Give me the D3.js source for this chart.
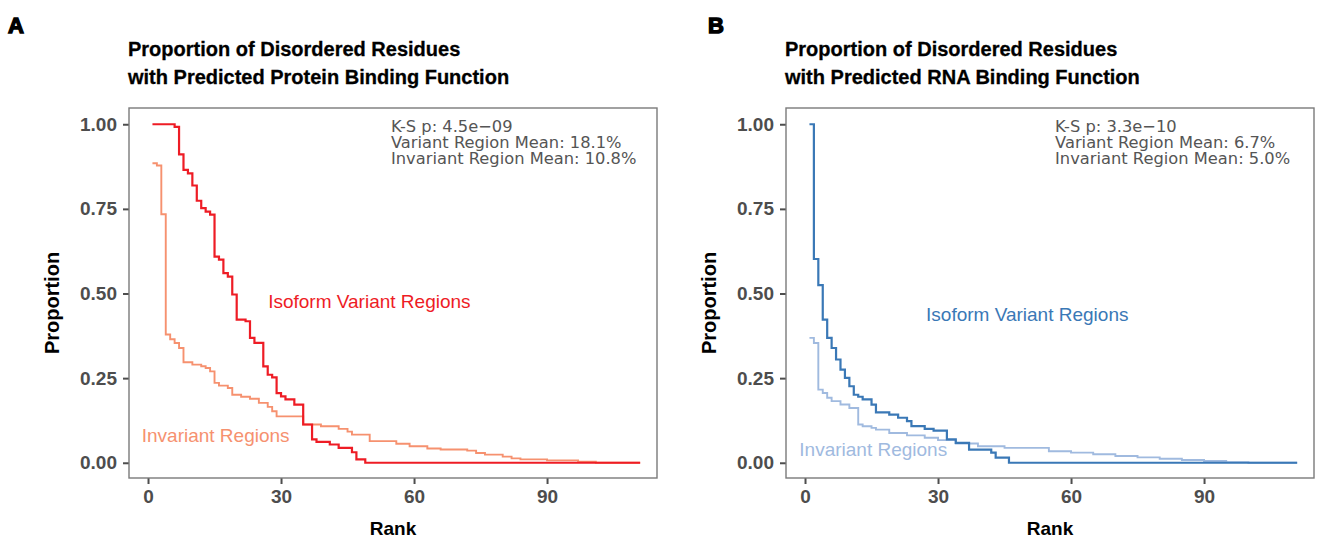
<!DOCTYPE html>
<html>
<head>
<meta charset="utf-8">
<script src="https://cdn.jsdelivr.net/npm/d3@7"></script>
<style>
  body { margin: 0; background: #fff; }
</style>
</head>
<body>
<script>
// ranked proportions, stored as [rank, value] where the step changes
const proteinVariant = [
  [1, 1.0], [6, 0.992], [7, 0.911], [8, 0.865], [9, 0.855], [10, 0.819], [11, 0.774],
  [12, 0.752], [13, 0.742], [14, 0.733], [15, 0.609], [16, 0.6], [17, 0.56], [18, 0.55],
  [19, 0.497], [20, 0.423], [22, 0.418], [23, 0.369], [24, 0.354], [26, 0.285], [27, 0.26],
  [28, 0.252], [29, 0.206], [30, 0.196], [31, 0.187], [33, 0.172], [35, 0.113], [37, 0.069],
  [38, 0.062], [41, 0.054], [43, 0.044], [46, 0.031], [47, 0.01], [49, 0]
];
const proteinInvariant = [
  [1, 0.885], [2, 0.878], [3, 0.734], [4, 0.379], [5, 0.365], [6, 0.354], [7, 0.339],
  [8, 0.297], [10, 0.29], [12, 0.285], [13, 0.28], [14, 0.27], [15, 0.236], [16, 0.228],
  [18, 0.221], [19, 0.201], [21, 0.195], [23, 0.189], [25, 0.177], [27, 0.165], [28, 0.152],
  [29, 0.137], [35, 0.113], [39, 0.108], [43, 0.1], [45, 0.092], [46, 0.083], [50, 0.064],
  [56, 0.056], [59, 0.049], [63, 0.042], [66, 0.039], [72, 0.036], [74, 0.029], [76, 0.024],
  [80, 0.018], [82, 0.013], [84, 0.01], [90, 0.007], [97, 0.003], [101, 0]
];
const rnaVariant = [
  [1, 1.0], [2, 0.602], [3, 0.525], [4, 0.423], [5, 0.369], [6, 0.339], [7, 0.305],
  [8, 0.275], [9, 0.251], [10, 0.226], [11, 0.201], [12, 0.195], [13, 0.187], [15, 0.172],
  [16, 0.149], [19, 0.142], [21, 0.133], [23, 0.123], [24, 0.108], [27, 0.1], [29, 0.095],
  [32, 0.069], [34, 0.059], [37, 0.039], [42, 0.03], [43, 0.015], [46, 0]
];
const rnaInvariant = [
  [1, 0.369], [2, 0.354], [3, 0.216], [4, 0.206], [5, 0.192], [6, 0.182], [8, 0.172],
  [10, 0.162], [12, 0.113], [13, 0.108], [15, 0.103], [16, 0.098], [19, 0.088], [23, 0.081],
  [27, 0.074], [30, 0.067], [34, 0.057], [39, 0.049], [45, 0.044], [55, 0.034], [60, 0.03],
  [65, 0.025], [70, 0.02], [75, 0.016], [80, 0.012], [85, 0.008], [90, 0.005], [95, 0.002],
  [100, 0]
];
const lastRank = 111;

const xTicks = [0, 30, 60, 90];
const yTicks = [0, 0.25, 0.5, 0.75, 1];

const proteinTitle = ["Proportion of Disordered Residues", "with Predicted Protein Binding Function"];
const rnaTitle = ["Proportion of Disordered Residues", "with Predicted RNA Binding Function"];
const proteinStats = ["K-S p: 4.5e\u221209", "Variant Region Mean: 18.1%", "Invariant Region Mean: 10.8%"];
const rnaStats = ["K-S p: 3.3e\u221210", "Variant Region Mean: 6.7%", "Invariant Region Mean: 5.0%"];

const W = 1326, H = 543;
const panelTop = 108, pw = 528, ph = 370;
const sans = "'Liberation Sans', Arial, sans-serif";

const panels = [
  {
    letter: "A", letterX: 8, left: 129, title: proteinTitle, stats: proteinStats, statsX: 54.8,
    variant: proteinVariant, invariant: proteinInvariant,
    vColor: "#ee1c25", iColor: "#f6916f",
    vLabel: [27.1, 0.458], iLabel: [-1.42, 0.06]
  },
  {
    letter: "B", letterX: 708, left: 786, title: rnaTitle, stats: rnaStats, statsX: 56.4,
    variant: rnaVariant, invariant: rnaInvariant,
    vColor: "#3a78b6", iColor: "#a0badf",
    vLabel: [27.3, 0.418], iLabel: [-1.29, 0.02]
  }
];

const svg = d3.select("body")
  .append("svg")
  .attr("width", W)
  .attr("height", H)
  .style("font-family", sans);

const x = d3.scaleLinear().domain([-4.29, 114.8]).range([0, pw]);
const y = d3.scaleLinear().domain([-0.045, 1.048]).range([ph, 0]);

const line = d3.line()
  .x((d) => x(d[0]))
  .y((d) => y(d[1]))
  .curve(d3.curveStepAfter);

// pad the last step out to the final rank
const extend = (s) => s.concat([[lastRank, s[s.length - 1][1]]]);

panels.forEach((p) => {
  svg.append("text")
    .text(p.letter)
    .attr("x", p.letterX)
    .attr("y", 33)
    .attr("font-size", 22)
    .attr("font-weight", "bold")
    .attr("stroke", "#000")
    .attr("stroke-width", 1.4);

  p.title.forEach((t, i) => {
    svg.append("text")
      .text(t)
      .attr("x", p.left - 1)
      .attr("y", 56 + i * 27.5)
      .attr("font-size", 20)
      .attr("font-weight", "bold")
      .attr("fill", "#000")
      .attr("stroke", "#000")
      .attr("stroke-width", 0.3);
  });

  const g = svg.append("g").attr("transform", `translate(${p.left},${panelTop})`);

  // axes
  const yAxis = g.append("g")
    .call(d3.axisLeft(y).tickValues(yTicks).tickFormat(d3.format(".2f")).tickSize(6).tickPadding(6));
  const xAxis = g.append("g")
    .attr("transform", `translate(0,${ph})`)
    .call(d3.axisBottom(x).tickValues(xTicks).tickSize(6).tickPadding(6));

  [yAxis, xAxis].forEach((a) => {
    a.attr("font-family", null).attr("font-size", null);
    a.select(".domain").remove();
    a.selectAll(".tick line").attr("stroke", "#4d4d4d").attr("stroke-width", 2);
    a.selectAll(".tick text")
      .attr("fill", "#4d4d4d")
      .attr("font-size", 19)
      .attr("font-weight", "bold");
  });

  g.append("rect")
    .attr("width", pw)
    .attr("height", ph)
    .attr("fill", "none")
    .attr("stroke", "#7a7a7a")
    .attr("stroke-width", 1.4);

  g.append("path")
    .attr("d", line(extend(p.invariant)))
    .attr("fill", "none")
    .attr("stroke", p.iColor)
    .attr("stroke-width", 1.9);

  g.append("path")
    .attr("d", line(extend(p.variant)))
    .attr("fill", "none")
    .attr("stroke", p.vColor)
    .attr("stroke-width", 2.2);

  g.append("text")
    .text("Isoform Variant Regions")
    .attr("x", x(p.vLabel[0]))
    .attr("y", y(p.vLabel[1]))
    .attr("font-size", 19)
    .attr("fill", p.vColor);

  g.append("text")
    .text("Invariant Regions")
    .attr("x", x(p.iLabel[0]))
    .attr("y", y(p.iLabel[1]))
    .attr("font-size", 19)
    .attr("fill", p.iColor);

  p.stats.forEach((t, i) => {
    g.append("text")
      .text(t)
      .attr("x", x(p.statsX))
      .attr("y", 23.7 + i * 16.3)
      .attr("font-size", 16.3)
      .style("font-family", "'DejaVu Sans', sans-serif")
      .attr("fill", "#555");
  });

  g.append("text")
    .text("Proportion")
    .attr("transform", `translate(${59 - 129},${303 - panelTop}) rotate(-90)`)
    .attr("text-anchor", "middle")
    .attr("font-size", 20)
    .attr("font-weight", "bold");

  g.append("text")
    .text("Rank")
    .attr("x", pw / 2)
    .attr("y", 535 - panelTop)
    .attr("text-anchor", "middle")
    .attr("font-size", 19)
    .attr("font-weight", "bold");
});
</script>
</body>
</html>
